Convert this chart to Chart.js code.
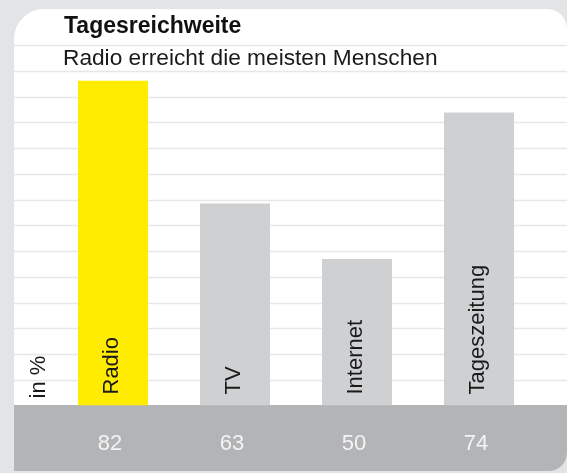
<!DOCTYPE html>
<html>
<head>
<meta charset="utf-8">
<script src="https://cdn.jsdelivr.net/npm/chart.js@4/dist/chart.umd.min.js"></script>
<style>
  html, body { margin: 0; padding: 0; }
  body { width: 567px; height: 473px; background: #e3e4e6; position: relative; overflow: hidden;
         font-family: "Liberation Sans", Arial, sans-serif; }
  #panel { position: absolute; left: 14px; top: 9px; width: 553px; height: 462px; background: #ffffff;
           border-radius: 30px 20px 18px 0; overflow: hidden; }
  #band { position: absolute; left: 0; top: 396px; width: 553px; height: 66px; background: #b3b4b6; }
  #wrap { position: absolute; left: 0; top: 0; width: 567px; height: 473px; }
  #title { position: absolute; left: 64px; top: 14px; font-size: 23px; line-height: 23px; font-weight: bold;
           color: #111; white-space: nowrap; }
  #subtitle { position: absolute; left: 63px; top: 46px; font-size: 22.7px; line-height: 22.5px;
              color: #1a1a1a; white-space: nowrap; }
</style>
</head>
<body>
<div id="panel"><div id="band"></div></div>
<div id="wrap"><canvas id="c" width="567" height="473"></canvas></div>
<div id="title">Tagesreichweite</div>
<div id="subtitle">Radio erreicht die meisten Menschen</div>
<script>
// Data
const categories = ['Radio', 'TV', 'Internet', 'Tageszeitung'];
// bar heights as drawn (in %, on the grid scale of the picture)
const barValues = [82, 51, 37, 74];
// values printed in the grey band under the bars
const printedValues = ['82', '63', '50', '74'];
const barColors = ['#ffec00', '#cfd0d2', '#cfd0d2', '#cfd0d2'];
const unitLabel = 'in %';
const yMax = 91;
const yStep = 6.5;

const FONT = '22px "Liberation Sans", Arial, sans-serif';

const ruledLines = {
  id: 'ruledLines',
  beforeDatasetsDraw(chart) {
    const ys = chart.scales.y;
    const ctx = chart.ctx;
    ctx.save();
    ctx.strokeStyle = '#e7e7e8';
    ctx.lineWidth = 1.6;
    ys.ticks.forEach(t => {
      if (t.value <= 0) return;
      const y = Math.round(ys.getPixelForValue(t.value)) + 0.5;
      ctx.beginPath();
      ctx.moveTo(14, y);
      ctx.lineTo(chart.width, y);
      ctx.stroke();
    });
    ctx.restore();
  }
};

const barText = {
  id: 'barText',
  afterDatasetsDraw(chart) {
    const ctx = chart.ctx;
    const meta = chart.getDatasetMeta(0);
    const base = chart.scales.y.getPixelForValue(0);
    ctx.save();
    ctx.font = FONT;
    // unit label, rotated, left of the bars
    ctx.save();
    ctx.fillStyle = '#1a1a1a';
    ctx.translate(chart.chartArea.left - 7, base - 7);
    ctx.rotate(-Math.PI / 2);
    ctx.textAlign = 'left';
    ctx.textBaseline = 'alphabetic';
    ctx.fillText(unitLabel, 0, 0);
    ctx.restore();
    meta.data.forEach((bar, i) => {
      // category name, rotated, inside the bar
      ctx.save();
      ctx.fillStyle = '#1a1a1a';
      ctx.translate(bar.x + 5, base - 11);
      ctx.rotate(-Math.PI / 2);
      ctx.textAlign = 'left';
      ctx.textBaseline = 'alphabetic';
      ctx.fillText(categories[i], 0, 0);
      ctx.restore();
      // printed value in the band
      ctx.fillStyle = '#f4f4f4';
      ctx.textAlign = 'center';
      ctx.textBaseline = 'middle';
      ctx.fillText(printedValues[i], bar.x - 3, base + 38);
    });
    ctx.restore();
  }
};

new Chart(document.getElementById('c'), {
  type: 'bar',
  data: {
    labels: categories,
    datasets: [{
      data: barValues,
      backgroundColor: barColors,
      borderWidth: 0,
      categoryPercentage: 1,
      barPercentage: 0.574
    }]
  },
  options: {
    responsive: false,
    animation: false,
    devicePixelRatio: 1,
    layout: { padding: { left: 52, right: 27, top: 45.1, bottom: 67.5 } },
    plugins: { legend: { display: false }, tooltip: { enabled: false }, title: { display: false } },
    scales: {
      x: { display: false },
      y: {
        display: false,
        min: 0, max: yMax,
        ticks: { stepSize: yStep }
      }
    }
  },
  plugins: [ruledLines, barText]
});
</script>
</body>
</html>
